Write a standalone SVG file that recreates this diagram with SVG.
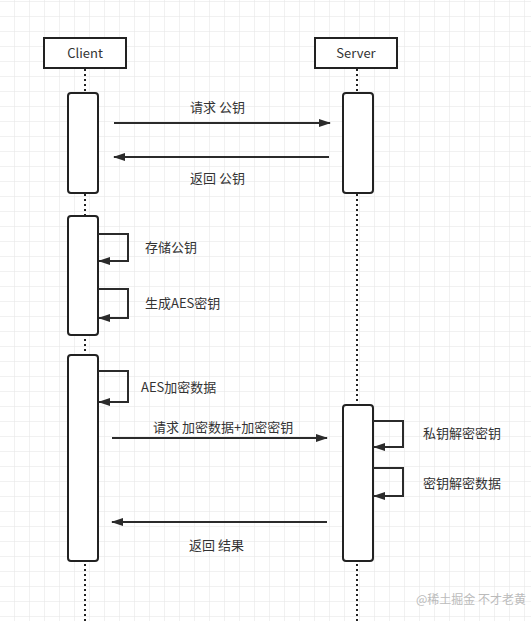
<svg xmlns="http://www.w3.org/2000/svg" width="531" height="621" viewBox="0 0 531 621">
<defs>
<pattern id="grid" x="14" y="1" width="15" height="15" patternUnits="userSpaceOnUse">
<path d="M0 0H15M0 0V15" fill="none" stroke="#e3e3e3" stroke-width="1"/>
</pattern>
<marker id="arr" viewBox="0 0 12 8" refX="11" refY="4" markerWidth="12" markerHeight="8" markerUnits="userSpaceOnUse" orient="auto">
<path d="M0 0L12 4L0 8Z" fill="#2b2b2b"/>
</marker>
<style>
.t{font-family:"Microsoft YaHei","Noto Sans CJK SC","Noto Sans",sans-serif;font-size:13px;fill:#333}
.box{fill:#fff;stroke:#222;stroke-width:2}
.act{fill:#fff;stroke:#222;stroke-width:2}
.life{stroke:#222;stroke-width:2;stroke-dasharray:2 3;fill:none}
.msg{stroke:#2b2b2b;stroke-width:2;fill:none;marker-end:url(#arr)}
</style>
</defs>
<rect width="531" height="621" fill="#fff"/>
<rect width="531" height="621" fill="url(#grid)"/>

<g id="lifelines">
<line class="life" x1="85" y1="69" x2="85" y2="621"/>
<line class="life" x1="357" y1="69" x2="357" y2="621"/>
</g>

<g id="client">
<rect class="box" x="44" y="38" width="82" height="30"/>
<text class="t" x="85" y="58" text-anchor="middle">Client</text>
</g>
<g id="server">
<rect class="box" x="315" y="38" width="82" height="30"/>
<text class="t" x="356" y="58" text-anchor="middle">Server</text>
</g>

<g id="client-act-1"><rect class="act" x="68" y="93" width="30" height="100" rx="3"/></g>
<g id="client-act-2"><rect class="act" x="68" y="216" width="30" height="119" rx="3"/></g>
<g id="client-act-3"><rect class="act" x="68" y="355" width="30" height="206" rx="3"/></g>
<g id="server-act-1"><rect class="act" x="343" y="93" width="30" height="100" rx="3"/></g>
<g id="server-act-2"><rect class="act" x="343" y="405" width="30" height="156" rx="3"/></g>

<g id="connectors">
<line class="msg" x1="114" y1="123" x2="330" y2="123"/>
<line class="msg" x1="329" y1="157" x2="114" y2="157"/>
<path class="msg" d="M98 234H128V261H99"/>
<path class="msg" d="M98 289H128V318H99"/>
<path class="msg" d="M98 371H128V402H99"/>
<line class="msg" x1="112" y1="438" x2="327" y2="438"/>
<path class="msg" d="M373 421H403V447H374"/>
<path class="msg" d="M373 468H403V496H374"/>
<line class="msg" x1="327" y1="522" x2="112" y2="522"/>
</g>

<g id="labels">
<text class="t" x="190" y="112">请求 公钥</text>
<text class="t" x="190" y="183">返回 公钥</text>
<text class="t" x="145" y="252">存储公钥</text>
<text class="t" x="145" y="308">生成AES密钥</text>
<text class="t" x="141" y="392">AES加密数据</text>
<text class="t" x="153" y="432">请求 加密数据+加密密钥</text>
<text class="t" x="423" y="438">私钥解密密钥</text>
<text class="t" x="423" y="488">密钥解密数据</text>
<text class="t" x="189" y="550">返回 结果</text>
</g>

<g id="watermark">
<text class="t" x="416" y="604" style="fill:#bbb;font-size:12px">@稀土掘金 不才老黄</text>
</g>
</svg>
